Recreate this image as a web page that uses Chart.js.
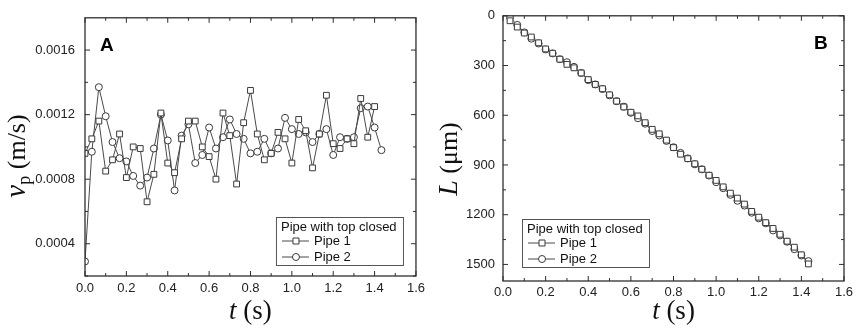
<!DOCTYPE html>
<html>
<head>
<meta charset="utf-8">
<script src="https://cdn.jsdelivr.net/npm/chart.js@4.4.0/dist/chart.umd.min.js"></script>
<style>
body { margin: 0; background: #fff; }
#wrapA { position: absolute; left: 0; top: 0; width: 430px; height: 328px; }
#wrapB { position: absolute; left: 430px; top: 0; width: 428px; height: 328px; }
</style>
</head>
<body>
<div id="wrapA"><canvas id="chartA"></canvas></div>
<div id="wrapB"><canvas id="chartB"></canvas></div>
<script>
// time stamps (s), one frame every 1/30 s
const timeA = [0.000, 0.033, 0.067, 0.100, 0.133, 0.167, 0.200, 0.233, 0.267, 0.300, 0.333,
    0.367, 0.400, 0.433, 0.467, 0.500, 0.533, 0.567, 0.600, 0.633, 0.667, 0.700, 0.733,
    0.767, 0.800, 0.833, 0.867, 0.900, 0.933, 0.967, 1.000, 1.033, 1.067, 1.100, 1.133,
    1.167, 1.200, 1.233, 1.267, 1.300, 1.333, 1.367, 1.400, 1.433];
const timeB = timeA.slice(1);

// panel A: velocity (m/s)
const vPipe1 = [0.00096, 0.00105, 0.00116, 0.00085, 0.00092, 0.00108, 0.00081, 0.00100, 0.00099,
    0.00066, 0.00083, 0.00121, 0.00090, 0.00084, 0.00105, 0.00116, 0.00116, 0.00100, 0.00094,
    0.00080, 0.00121, 0.00107, 0.00077, 0.00115, 0.00135, 0.00108, 0.00092, 0.00096, 0.00109,
    0.00105, 0.00090, 0.00117, 0.00110, 0.00087, 0.00108, 0.00132, 0.00102, 0.00099, 0.00105,
    0.00102, 0.00130, 0.00106, 0.00125];
const vPipe2 = [0.00029, 0.00097, 0.00137, 0.00119, 0.00103, 0.00093, 0.00091, 0.00082, 0.00076,
    0.00081, 0.00099, 0.00120, 0.00104, 0.00073, 0.00107, 0.00114, 0.00090, 0.00095, 0.00112,
    0.00099, 0.00106, 0.00117, 0.00108, 0.00105, 0.00096, 0.00097, 0.00105, 0.00096, 0.00099,
    0.00118, 0.00111, 0.00108, 0.00109, 0.00103, 0.00108, 0.00111, 0.00095, 0.00106, 0.00105,
    0.00106, 0.00124, 0.00125, 0.00112, 0.00098];

// panel B: position L (um)
const lPipe1 = [30, 68, 104, 128, 163, 200, 226, 262, 293, 314, 345, 385, 414, 440, 477, 515, 550,
    582, 604, 645, 685, 712, 750, 795, 835, 862, 893, 926, 962, 993, 1032, 1070, 1100, 1136, 1180,
    1215, 1248, 1283, 1318, 1360, 1396, 1442, 1497];
const lPipe2 = [10, 55, 100, 138, 167, 203, 227, 262, 280, 308, 345, 388, 414, 442, 480, 515, 548,
    585, 618, 651, 695, 722, 755, 793, 827, 860, 896, 926, 964, 1004, 1040, 1080, 1116, 1145, 1188,
    1222, 1252, 1295, 1325, 1363, 1408, 1446, 1480];

const xTicks = [0, 0.2, 0.4, 0.6, 0.8, 1.0, 1.2, 1.4, 1.6];
const yTicksA = [0.0004, 0.0008, 0.0012, 0.0016];
const yTicksB = [0, 300, 600, 900, 1200, 1500];

const legendTitle = 'Pipe with top closed';
const seriesNames = ['Pipe 1', 'Pipe 2'];

const LINE = '#4a4a4a';
const TICKFONT = { family: '"Liberation Sans", Arial, sans-serif', size: 13 };
const SERIF = '"Liberation Serif", "Times New Roman", serif';

function pts(xs, ys) {
    return ys.map((y, i) => ({ x: xs[i], y: y }));
}

function series(name, data, shape) {
    return {
        label: name,
        data: data,
        borderColor: LINE,
        borderWidth: 1,
        pointStyle: shape,
        pointRadius: shape === 'rect' ? 4.1 : 3.5,
        pointBorderColor: '#3a3a3a',
        pointBorderWidth: 1,
        pointBackgroundColor: '#fff',
        fill: false,
        tension: 0
    };
}

// draws text made of pieces (italic letter, subscript, plain part)
function drawPieces(ctx, pieces, cx, cy, rotate) {
    ctx.save();
    ctx.translate(cx, cy);
    if (rotate) ctx.rotate(-Math.PI / 2);
    let total = 0;
    pieces.forEach(p => { ctx.font = p.font; total += ctx.measureText(p.text).width; });
    let x = -total / 2;
    ctx.fillStyle = '#111';
    ctx.textBaseline = 'alphabetic';
    ctx.textAlign = 'left';
    pieces.forEach(p => {
        ctx.font = p.font;
        ctx.fillText(p.text, x, p.dy || 0);
        x += ctx.measureText(p.text).width;
    });
    ctx.restore();
}

const decoPlugin = {
    id: 'deco',
    afterDraw(chart, args, opts) {
        const ctx = chart.ctx, a = chart.chartArea;
        const xs = chart.scales.x, ys = chart.scales.y;
        ctx.save();
        // frame
        ctx.strokeStyle = '#2e2e2e';
        ctx.lineWidth = 1.3;
        ctx.strokeRect(a.left, a.top, a.right - a.left, a.bottom - a.top);

        // inward ticks on all four sides
        ctx.lineWidth = 1;
        const tick = (scale, vals, len) => {
            vals.forEach(v => {
                if (v < Math.min(scale.min, scale.max) || v > Math.max(scale.min, scale.max)) return;
                const p = scale.getPixelForValue(v);
                ctx.beginPath();
                if (scale.isHorizontal()) {
                    ctx.moveTo(p, a.bottom); ctx.lineTo(p, a.bottom - len);
                    ctx.moveTo(p, a.top); ctx.lineTo(p, a.top + len);
                } else {
                    ctx.moveTo(a.left, p); ctx.lineTo(a.left + len, p);
                    ctx.moveTo(a.right, p); ctx.lineTo(a.right - len, p);
                }
                ctx.stroke();
            });
        };
        const minor = (vals) => {
            const step = vals[1] - vals[0];
            const out = [vals[0] - step / 2];
            vals.forEach(v => out.push(v + step / 2));
            return out;
        };
        tick(xs, opts.xTicks, 5);
        tick(xs, minor(opts.xTicks), 3);
        tick(ys, opts.yTicks, 5);
        tick(ys, minor(opts.yTicks), 3);

        // panel letter
        ctx.fillStyle = '#000';
        ctx.font = 'bold 19px "Liberation Sans", Arial, sans-serif';
        ctx.textBaseline = 'alphabetic';
        ctx.textAlign = 'left';
        ctx.fillText(opts.letter, opts.letterX(a), a.top + 33);

        // legend box
        const L = opts.legendX(a), T = a.bottom - opts.legendBottom - 48;
        ctx.strokeStyle = '#555';
        ctx.lineWidth = 1;
        ctx.strokeRect(L + 0.5, T + 0.5, 127, 48);
        ctx.fillStyle = '#111';
        ctx.font = '13px "Liberation Sans", Arial, sans-serif';
        ctx.textBaseline = 'middle';
        ctx.fillText(legendTitle, L + 5, T + 10);
        chart.data.datasets.forEach((ds, i) => {
            const y = T + 24 + i * 16;
            ctx.strokeStyle = ds.borderColor;
            ctx.beginPath();
            ctx.moveTo(L + 6, y); ctx.lineTo(L + 33, y);
            ctx.stroke();
            ctx.fillStyle = '#fff';
            ctx.strokeStyle = ds.pointBorderColor;
            ctx.beginPath();
            if (ds.pointStyle === 'rect') {
                ctx.rect(L + 17, y - 3, 6, 6);
            } else {
                ctx.arc(L + 20, y, 3.5, 0, Math.PI * 2);
            }
            ctx.fill();
            ctx.stroke();
            ctx.fillStyle = '#111';
            ctx.fillText(ds.label, L + 38, y);
        });

        // axis titles
        drawPieces(ctx, [
            { text: 't', font: 'italic 27px ' + SERIF },
            { text: ' (s)', font: '27px ' + SERIF }
        ], (a.left + a.right) / 2, 319, false);
        drawPieces(ctx, opts.yTitle, opts.yTitleX, opts.yTitleY, true);
        ctx.restore();
    }
};

function makeChart(id, sets, yOpts, deco, box) {
    return new Chart(document.getElementById(id), {
        type: 'line',
        data: { datasets: sets },
        options: {
            responsive: true,
            maintainAspectRatio: false,
            animation: false,
            layout: { padding: { left: 0, top: 12, right: box.right, bottom: 0 } },
            plugins: { legend: { display: false }, tooltip: { enabled: false }, deco: deco },
            scales: {
                x: {
                    type: 'linear',
                    min: 0, max: 1.6,
                    grid: { display: false, drawTicks: false },
                    border: { display: false },
                    afterBuildTicks: s => { s.ticks = xTicks.map(v => ({ value: v })); },
                    afterFit: s => { s.height = box.xHeight; },
                    ticks: { font: TICKFONT, color: '#222', padding: box.xPad, maxRotation: 0,
                        callback: v => Number(v).toFixed(1) }
                },
                y: Object.assign({
                    type: 'linear',
                    grid: { display: false, drawTicks: false },
                    border: { display: false },
                    afterFit: s => { s.width = box.yWidth; }
                }, yOpts)
            }
        },
        plugins: [decoPlugin]
    });
}

makeChart('chartA',
    [series(seriesNames[0], pts(timeA, vPipe1), 'rect'), series(seriesNames[1], pts(timeA, vPipe2), 'circle')],
    {
        min: 0.0002, max: 0.0018,
        afterBuildTicks: s => { s.ticks = yTicksA.map(v => ({ value: v })); },
        ticks: { font: TICKFONT, color: '#222', padding: 10, callback: v => Number(v).toFixed(4) }
    },
    {
        xTicks: xTicks, yTicks: yTicksA, letter: 'A',
        letterX: a => a.left + 15,
        legendX: a => a.right - 140, legendBottom: 11,
        yTitle: [
            { text: 'v', font: 'italic 29px ' + SERIF },
            { text: 'p', font: '18px ' + SERIF, dy: 5 },
            { text: ' (m/s)', font: '26px ' + SERIF }
        ],
        yTitleX: 25, yTitleY: 156
    },
    { right: 11, xHeight: 52, xPad: 5, yWidth: 85 }
);

makeChart('chartB',
    [series(seriesNames[0], pts(timeB, lPipe1), 'rect'), series(seriesNames[1], pts(timeB, lPipe2), 'circle')],
    {
        min: 0, max: 1600, reverse: true,
        afterBuildTicks: s => { s.ticks = yTicksB.map(v => ({ value: v })); },
        ticks: { font: TICKFONT, color: '#222', padding: 8, callback: v => String(v) }
    },
    {
        xTicks: xTicks, yTicks: yTicksB, letter: 'B',
        letterX: a => a.right - 30,
        legendX: a => a.left + 19, legendBottom: 14,
        yTitle: [
            { text: 'L', font: 'italic 28px ' + SERIF },
            { text: ' (\u03bcm)', font: '26px ' + SERIF }
        ],
        yTitleX: 27, yTitleY: 159
    },
    { right: 14, xHeight: 47, xPad: 4, yWidth: 73 }
);
</script>
</body>
</html>
